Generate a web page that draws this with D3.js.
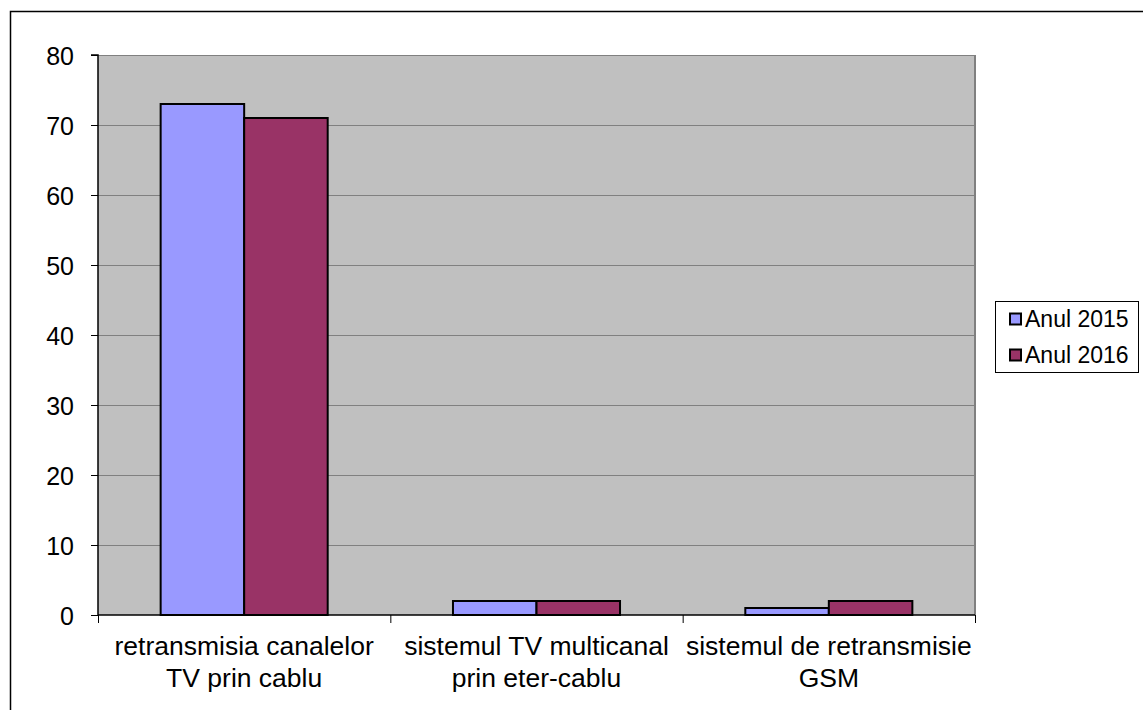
<!DOCTYPE html>
<html><head><meta charset="utf-8">
<script src="https://cdn.jsdelivr.net/npm/d3@7"></script>
<style>body{margin:0;background:#fff}svg{display:block;font-family:"Liberation Sans",Arial,sans-serif}</style>
</head><body><svg id="c" width="1143" height="710"></svg>
<script>
const categories = [["retransmisia canalelor","TV prin cablu"],["sistemul TV multicanal","prin eter-cablu"],["sistemul de retransmisie","GSM"]];
const seriesNames = ["Anul 2015","Anul 2016"];
const values2015 = [73, 2, 1];
const values2016 = [71, 2, 2];
const yTicks = [0,10,20,30,40,50,60,70,80];
const colors = ["#9999ff","#993366"];

const svg = d3.select("#c");
svg.append("rect").attr("x",10.5).attr("y",11.5).attr("width",1200).attr("height",800).attr("fill","none").attr("stroke","#000").attr("stroke-width",1.5);

const L=98, R=975, T=55, B=615;
const x = d3.scaleBand().domain(d3.range(categories.length)).range([L,R]);
const xs = d3.scaleBand().domain(seriesNames).range([0,x.bandwidth()]).paddingOuter(0.75).paddingInner(0);
const y = d3.scaleLinear().domain([0,80]).range([B,T]);

svg.append("rect").attr("x",L).attr("y",T).attr("width",R-L).attr("height",B-T).attr("fill","#c0c0c0");
svg.append("g").selectAll("line").data(yTicks.filter(d=>d>0)).join("line")
  .attr("x1",L).attr("x2",R).attr("y1",d=>Math.round(y(d))+0.5).attr("y2",d=>Math.round(y(d))+0.5)
  .attr("stroke","#808080").attr("stroke-width",1);
svg.append("line").attr("x1",R).attr("x2",R).attr("y1",T).attr("y2",B).attr("stroke","#808080").attr("stroke-width",2);

const series = [values2015, values2016];
const g = svg.append("g");
categories.forEach((c,i)=>{
  seriesNames.forEach((s,j)=>{
    const v = series[j][i];
    g.append("rect").attr("x",x(i)+xs(s)).attr("y",y(v)).attr("width",xs.bandwidth()).attr("height",y(0)-y(v))
     .attr("fill",colors[j]).attr("stroke","#000").attr("stroke-width",2);
  });
});

const yAxis = d3.axisLeft(y).tickValues(yTicks).tickSize(7).tickPadding(17);
const ya = svg.append("g").attr("transform",`translate(${L},0)`).call(yAxis);
ya.attr("font-size",null).attr("font-family",null);
ya.select(".domain").attr("stroke","#000").attr("stroke-width",1.5).attr("d",`M-7,${T}H0V${B}`);
ya.selectAll(".tick line").attr("stroke","#000");
ya.selectAll("text").style("font-size","25px").attr("fill","#000").attr("dy","0.36em");

const xb = d3.scaleLinear().domain([0,3]).range([L,R]);
const xa = svg.append("g").attr("transform",`translate(0,${B})`).call(d3.axisBottom(xb).tickValues([0,1,2,3]).tickSize(8).tickFormat(""));
xa.select(".domain").attr("stroke","#000").attr("stroke-width",1.5).attr("d",`M${L},0H${R}`);
xa.selectAll(".tick line").attr("stroke","#000");

const lab = svg.append("g");
categories.forEach((c,i)=>{
  const t = lab.append("text").attr("text-anchor","middle").style("font-size","26.5px").attr("fill","#000");
  c.forEach((line,k)=>{
    t.append("tspan").attr("x",x(i)+x.bandwidth()/2).attr("y",655+k*32).text(line);
  });
});

const lg = svg.append("g");
lg.append("rect").attr("x",995.5).attr("y",301.5).attr("width",143).attr("height",71).attr("fill","#fff").attr("stroke","#000").attr("stroke-width",1);
seriesNames.forEach((s,j)=>{
  const cy = 319 + j*36;
  lg.append("rect").attr("x",1010).attr("y",cy-5.5).attr("width",11).attr("height",11).attr("fill",colors[j]).attr("stroke","#000").attr("stroke-width",2);
  lg.append("text").attr("x",1025).attr("y",cy+8).style("font-size","23px").attr("fill","#000").text(s);
});
</script></body></html>
